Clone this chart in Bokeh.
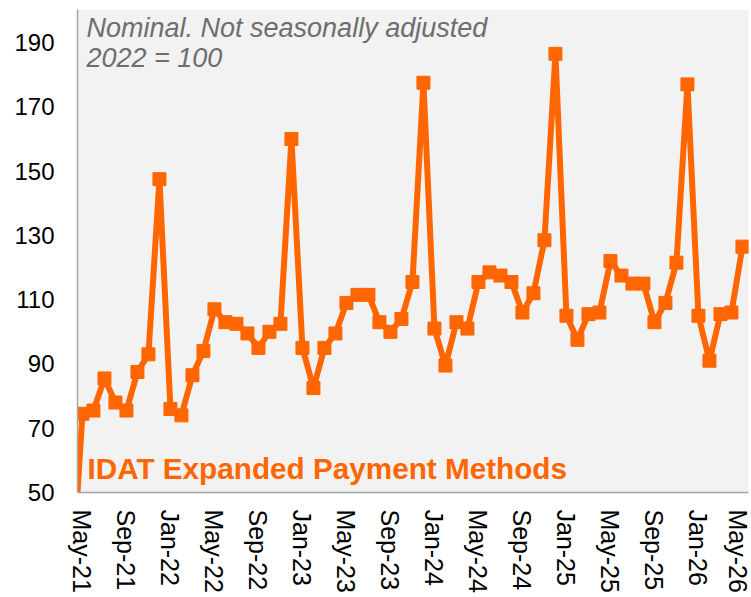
import math
from bokeh.plotting import figure
from bokeh.models import ColumnDataSource, FixedTicker, Label, Range1d
from bokeh.embed import file_html
from bokeh.resources import INLINE

# Monthly index values, Apr-21 (just off the left edge) through May-26
months = ["Apr-21",
          "May-21", "Jun-21", "Jul-21", "Aug-21", "Sep-21", "Oct-21", "Nov-21", "Dec-21",
          "Jan-22", "Feb-22", "Mar-22", "Apr-22", "May-22", "Jun-22", "Jul-22", "Aug-22",
          "Sep-22", "Oct-22", "Nov-22", "Dec-22",
          "Jan-23", "Feb-23", "Mar-23", "Apr-23", "May-23", "Jun-23", "Jul-23", "Aug-23",
          "Sep-23", "Oct-23", "Nov-23", "Dec-23",
          "Jan-24", "Feb-24", "Mar-24", "Apr-24", "May-24", "Jun-24", "Jul-24", "Aug-24",
          "Sep-24", "Oct-24", "Nov-24", "Dec-24",
          "Jan-25", "Feb-25", "Mar-25", "Apr-25", "May-25", "Jun-25", "Jul-25", "Aug-25",
          "Sep-25", "Oct-25", "Nov-25", "Dec-25",
          "Jan-26", "Feb-26", "Mar-26", "Apr-26", "May-26"]
values = [20,
          74.5, 75.5, 85.5, 78, 75.5, 87.5, 93, 147.5,
          76, 74, 86.5, 94, 107, 103, 102.5, 99.5,
          95, 100, 102.5, 160,
          95, 82.5, 95, 99.5, 109, 111.5, 111.5, 103,
          100, 104, 115.5, 177.5,
          101, 89.5, 103, 101, 115.5, 118.5, 117.5, 115.5,
          106, 112, 128.5, 186.5,
          105, 97.5, 105.5, 106, 122, 117.5, 115, 115,
          103, 109, 121.5, 177,
          105, 91, 105.5, 106, 126.5]
y_ticks = [50, 70, 90, 110, 130, 150, 170, 190]
x_tick_labels = ["May-21", "Sep-21", "Jan-22", "May-22", "Sep-22", "Jan-23", "May-23",
                 "Sep-23", "Jan-24", "May-24", "Sep-24", "Jan-25", "May-25", "Sep-25",
                 "Jan-26", "May-26"]
note_lines = ["Nominal. Not seasonally adjusted", "2022 = 100"]
series_name = "IDAT Expanded Payment Methods"

ORANGE = "#FF6600"
FONT = "Liberation Sans"

idx = list(range(-1, len(months) - 1))  # May-21 = 0
src = ColumnDataSource(dict(x=idx, y=values, month=months))

x_start, x_end = -0.45, 60.55
y_start, y_end = 50, 200.3

p = figure(width=751, height=597, output_backend="svg", toolbar_location=None,
           x_range=Range1d(x_start, x_end), y_range=Range1d(y_start, y_end),
           min_border_left=77, min_border_right=3, min_border_top=9, min_border_bottom=105)
p.background_fill_color = "#F2F2F2"
p.border_fill_color = "white"
p.outline_line_color = None
p.xgrid.visible = False
p.ygrid.visible = False

p.line("x", "y", source=src, line_color=ORANGE, line_width=6, line_join="round")
p.scatter("x", "y", source=src, marker="square", size=13, fill_color=ORANGE,
          line_color=ORANGE)

tick_pos = list(range(0, 61, 4))
p.xaxis.ticker = FixedTicker(ticks=tick_pos)
p.xaxis.major_label_overrides = {t: lab for t, lab in zip(tick_pos, x_tick_labels)}
p.xaxis.major_label_orientation = -math.pi / 2
p.yaxis.ticker = FixedTicker(ticks=y_ticks)

for ax in (p.xaxis, p.yaxis):
    ax.axis_line_color = "#A6A6A6"
    ax.axis_line_width = 1.5
    ax.major_tick_line_color = None
    ax.minor_tick_line_color = None
    ax.major_tick_out = 0
    ax.major_tick_in = 0
    ax.major_label_text_font = FONT
    ax.major_label_text_color = "#000000"
p.yaxis.major_label_text_font_size = "24px"
p.xaxis.major_label_text_font_size = "25px"
p.yaxis.major_label_standoff = 23
p.xaxis.major_label_standoff = 17

for i, line in enumerate(note_lines):
    p.add_layout(Label(x=x_start, y=y_end, x_offset=9, y_offset=-18 - 30 * i,
                       text=line, text_font=FONT, text_font_size="27px",
                       text_font_style="italic", text_color="#6E6E6E",
                       text_baseline="alphabetic", text_align="left"))

p.add_layout(Label(x=x_start, y=y_start, x_offset=10, y_offset=24, text=series_name,
                   text_font=FONT, text_font_size="29.7px", text_font_style="bold",
                   text_color=ORANGE, text_baseline="alphabetic", text_align="left"))

open("out.html", "w").write(file_html(p, INLINE))
